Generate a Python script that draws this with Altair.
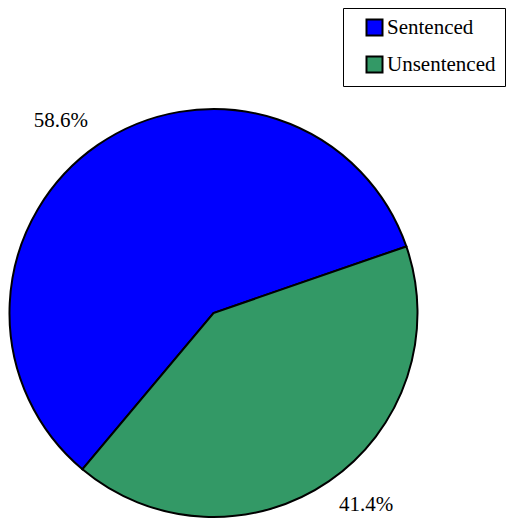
import math
import altair as alt
import pandas as pd

categories = ["Sentenced", "Unsentenced"]
shares = [58.6, 41.4]
labels = ["58.6%", "41.4%"]
colors = ["#0000FF", "#339966"]

df = pd.DataFrame({"category": categories, "share": shares, "label": labels})

start = math.radians(220)
lab_start = math.radians(216)
FONT = "Liberation Serif"

order = alt.Order("category:N", sort="ascending")

pie = alt.Chart(df).mark_arc(stroke="black", strokeWidth=2, radius=204).encode(
    theta=alt.Theta("share:Q", stack=True,
                    scale=alt.Scale(range=[start, start + 2 * math.pi])),
    color=alt.Color(
        "category:N",
        scale=alt.Scale(domain=categories, range=colors),
        legend=alt.Legend(
            title=None, orient="none", legendX=335, legendY=0,
            symbolType="square", symbolSize=256,
            symbolStrokeColor="black", symbolStrokeWidth=2,
            labelFont=FONT, labelFontSize=21, labelColor="black",
            labelOffset=2, labelLimit=300,
            strokeColor="black", fillColor="white",
            padding=9, rowPadding=12, symbolOffset=12,
        ),
    ),
    order=order,
    x=alt.value(205.5),
    y=alt.value(305),
)

text = alt.Chart(df).mark_text(
    radius=245, font=FONT, fontSize=21, color="black",
    align="center", baseline="middle",
).encode(
    theta=alt.Theta("share:Q", stack=True,
                    scale=alt.Scale(range=[lab_start, lab_start + 2 * math.pi])),
    text="label:N",
    detail="category:N",
    order=order,
    x=alt.value(205.5),
    y=alt.value(305),
)

chart = alt.layer(pie, text).resolve_scale(theta="independent").properties(
    width=500, height=514, padding=0,
    autosize=alt.AutoSizeParams(type="none"),
).configure(font=FONT).configure_view(stroke=None)

chart.save("out.html", embed_options={"renderer": "svg", "actions": False})
